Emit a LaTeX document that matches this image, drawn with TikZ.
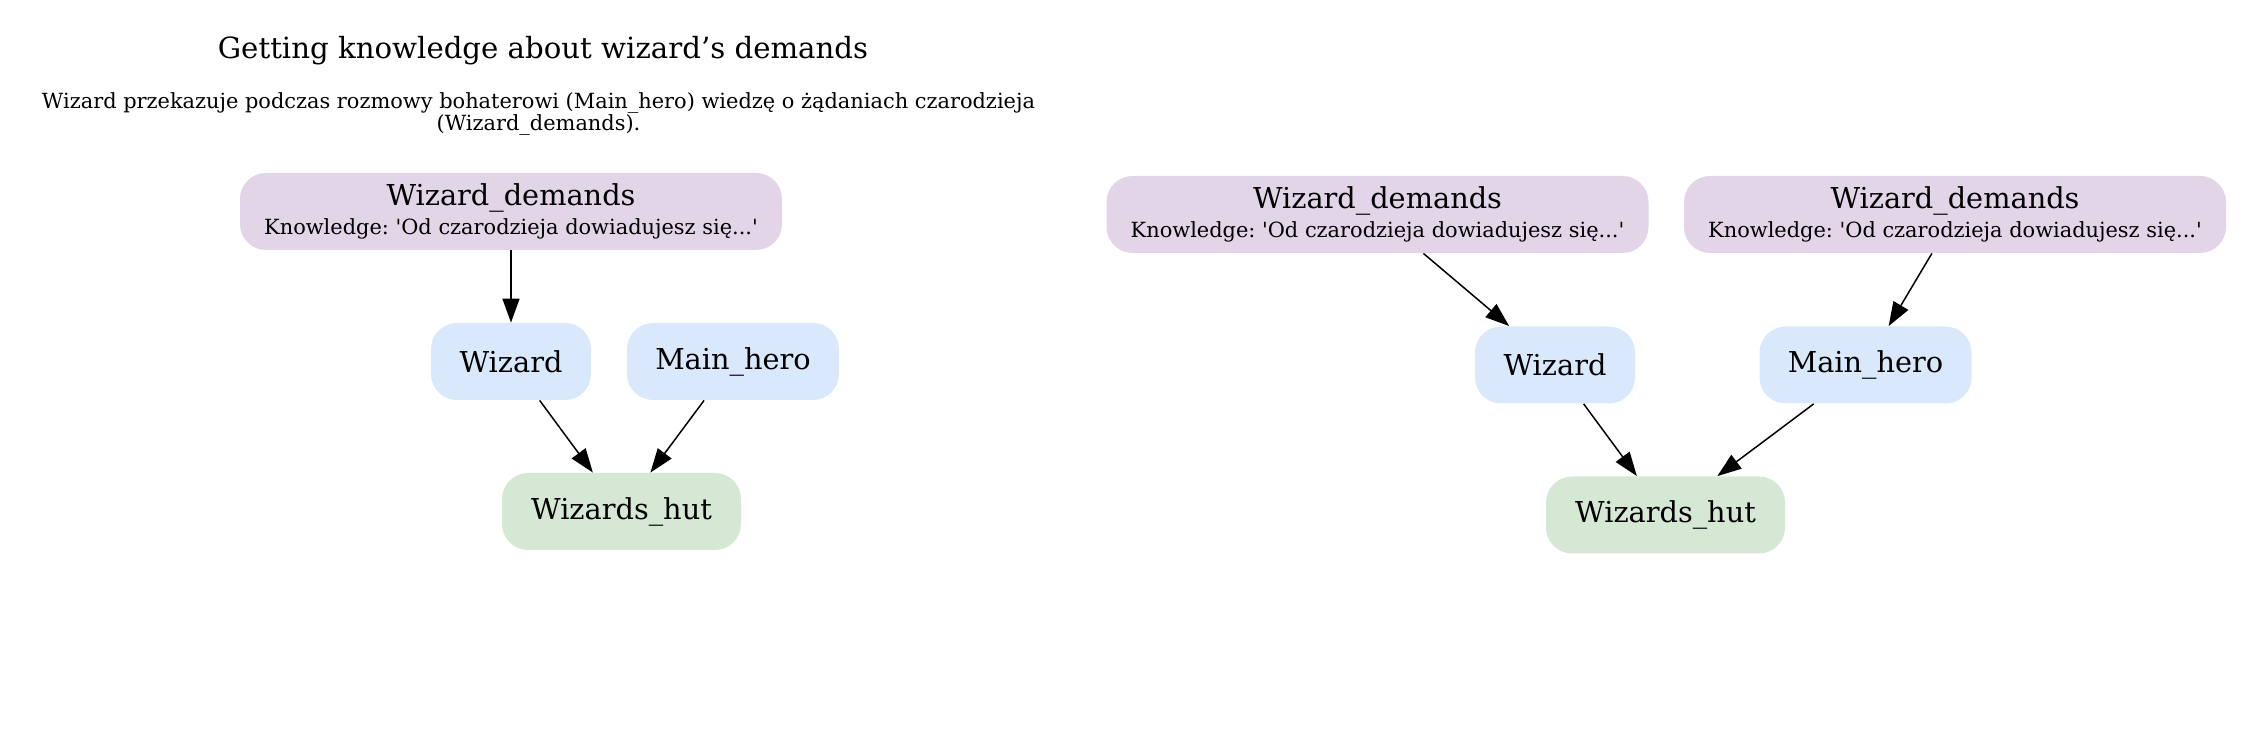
\documentclass[tikz,border=0pt]{standalone}
\usepackage{fontspec}
\setmainfont{DejaVu Serif}[Ligatures=TeXOff]
\usetikzlibrary{arrows.meta}
\definecolor{demandsfill}{HTML}{E1D5E7}
\definecolor{actorfill}{HTML}{DAE8FC}
\definecolor{placefill}{HTML}{D5E8D4}
\frenchspacing
\newcommand{\knowtext}{{\fontsize{10.45}{12}\selectfont Knowledge: 'Od czarodzieja dowiadujesz się...'}}

\begin{document}
\begin{tikzpicture}[x=0.5pt,y=-0.5pt,
  box/.style={rounded corners=13pt,inner sep=0pt,minimum height=38.5pt,
    font=\fontsize{14.4}{14.5}\selectfont},
  demands/.style={box,fill=demandsfill,align=center,minimum width=271pt},
  actor/.style={box,fill=actorfill},
  place/.style={box,fill=placefill},
  edge/.style={draw=black,line width=0.75pt,-{Triangle[length=12pt,width=8.5pt]}}]
\useasboundingbox (0,0) rectangle (2253,731);
% captions:
\node[font=\fontsize{14.6}{17}\selectfont,anchor=base] (title) at (543,58.5)
  {Getting knowledge about wizard’s demands};
\node[font=\fontsize{10.45}{8.5}\selectfont,align=center,anchor=base] (subtitle) at (538.5,131)
  {Wizard przekazuje podczas rozmowy bohaterowi (Main\_hero) wiedzę o żądaniach czarodzieja\\(Wizard\_demands).};
% left graph:
\node[demands] (wdleft) at (511,211.5) {Wizard\_demands\\\knowtext};
\node[actor,minimum width=80pt] (wizleft) at (511,361.5) {Wizard};
\node[actor,minimum width=106pt] (heroleft) at (733,361.5) {Main\_hero};
\node[place,minimum width=119.5pt] (hutleft) at (621.5,511.5) {Wizards\_hut};
\draw[edge] (wdleft) -- (wizleft);
\draw[edge] (wizleft) -- (hutleft);
\draw[edge] (heroleft) -- (hutleft);
% right graph:
\node[demands] (wdone) at (1377.5,214.5) {Wizard\_demands\\\knowtext};
\node[demands] (wdtwo) at (1955,214.5) {Wizard\_demands\\\knowtext};
\node[actor,minimum width=80pt] (wizright) at (1555,365) {Wizard};
\node[actor,minimum width=106pt] (heroright) at (1865.5,365) {Main\_hero};
\node[place,minimum width=119.5pt] (hutright) at (1665.5,515) {Wizards\_hut};
\draw[edge] (wdone) -- (wizright);
\draw[edge] (wdtwo) -- (heroright);
\draw[edge] (wizright) -- (hutright);
\draw[edge] (heroright) -- (hutright);
\end{tikzpicture}
\end{document}
